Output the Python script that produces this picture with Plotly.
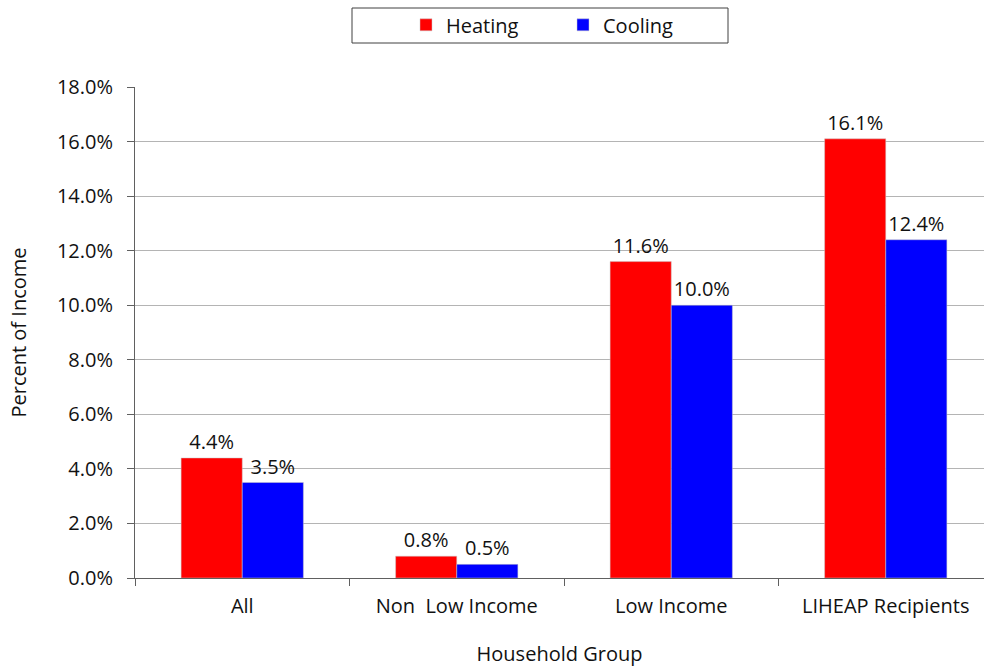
import plotly.graph_objects as go

# Energy burden by household group
groups = ["All", "Non  Low Income", "Low Income", "LIHEAP Recipients"]
heating = [4.4, 0.8, 11.6, 16.1]
cooling = [3.5, 0.5, 10.0, 12.4]
y_ticks = [0, 2, 4, 6, 8, 10, 12, 14, 16, 18]

FONT = "Open Sans"
fs = 20
INK = "#111111"

fig = go.Figure()
fig.add_trace(go.Bar(
    name="Heating", x=groups, y=[v / 100 for v in heating],
    marker=dict(color="#ff0000", line=dict(color="#c8c8c8", width=0.5)),
    text=[f"{v:.1f}%" for v in heating], textposition="outside",
    textfont=dict(family=FONT, size=fs, color=INK), cliponaxis=False,
))
fig.add_trace(go.Bar(
    name="Cooling", x=groups, y=[v / 100 for v in cooling],
    marker=dict(color="#0000ff", line=dict(color="#c8c8c8", width=0.5)),
    text=[f"{v:.1f}%" for v in cooling], textposition="outside",
    textfont=dict(family=FONT, size=fs, color=INK), cliponaxis=False,
))

fig.update_layout(
    width=984, height=667,
    margin=dict(l=135, r=0, t=87, b=89),
    paper_bgcolor="white", plot_bgcolor="white",
    barmode="group", bargap=0.43, bargroupgap=0,
    font=dict(family=FONT, size=fs, color=INK),
    legend=dict(
        orientation="h", xref="container", yref="container",
        x=406 / 984, xanchor="left", y=0.992, yanchor="top",
        borderwidth=0, bgcolor="rgba(0,0,0,0)",
        entrywidth=112, itemwidth=30,
        font=dict(family=FONT, size=fs, color=INK),
    ),
    showlegend=True,
    # frame around the legend
    shapes=[dict(
        type="rect", xref="paper", yref="paper",
        x0=(352 - 135) / 849, x1=(728 - 135) / 849,
        y0=(578 - 43) / 491, y1=(578 - 8) / 491,
        line=dict(color="#404040", width=1), fillcolor="rgba(0,0,0,0)",
        layer="below",
    )],
)
fig.update_xaxes(
    range=[-0.5, 3.458],
    showline=True, linecolor="#606060", linewidth=1,
    ticks="outside", tickson="boundaries", ticklen=7, tickcolor="#606060",
    ticklabelstandoff=10,
    showgrid=False,
    title=dict(text="Household Group", standoff=32,
               font=dict(family=FONT, size=fs, color=INK)),
)
fig.update_yaxes(
    range=[0, 0.18],
    tickvals=[t / 100 for t in y_ticks], tickformat=".1%",
    showline=True, linecolor="#606060", linewidth=1,
    ticks="outside", ticklen=7, tickcolor="#606060",
    ticklabelstandoff=10,
    showgrid=True, gridcolor="#b4b4b4", gridwidth=1,
    zeroline=False,
    title=dict(text="Percent of Income", standoff=24,
               font=dict(family=FONT, size=fs, color=INK)),
)

fig.write_html("out.html")
